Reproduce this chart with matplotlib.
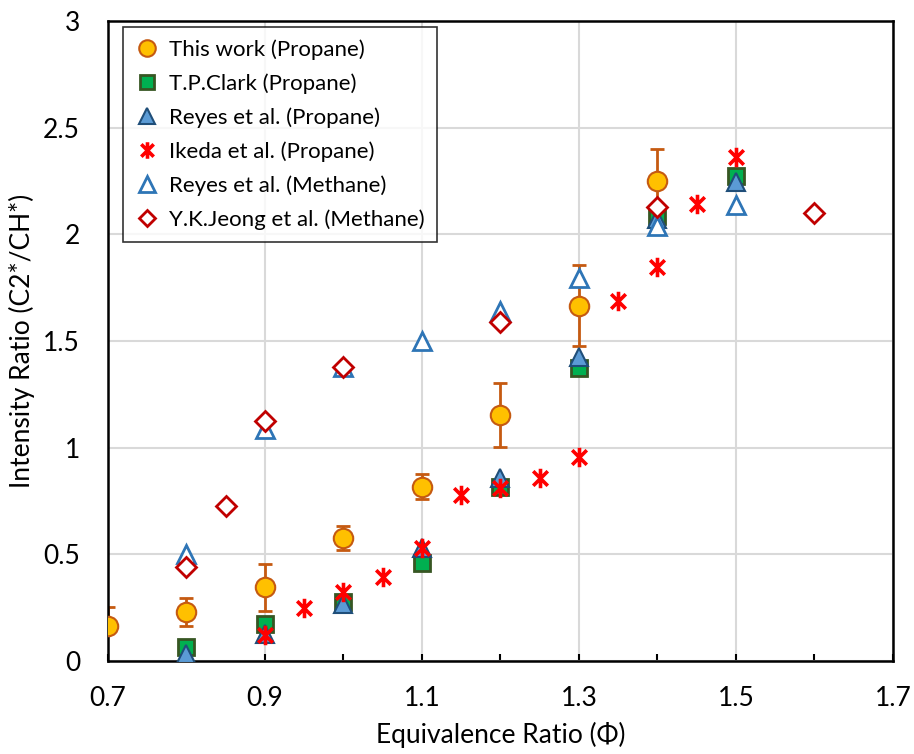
import matplotlib.pyplot as plt
import numpy as np
from matplotlib.path import Path
from matplotlib.ticker import MultipleLocator

plt.rcParams['font.family'] = ['Lato', 'DejaVu Sans']

# data
phi_this = [0.7, 0.8, 0.9, 1.0, 1.1, 1.2, 1.3, 1.4]
ir_this = [0.165, 0.23, 0.345, 0.578, 0.818, 1.155, 1.665, 2.25]
err_lo = [0.0, 0.067, 0.11, 0.057, 0.06, 0.15, 0.19, 0.15]
err_hi = [0.09, 0.067, 0.11, 0.057, 0.06, 0.15, 0.19, 0.15]

phi_clark = [0.8, 0.9, 1.0, 1.1, 1.2, 1.3, 1.4, 1.5]
ir_clark = [0.067, 0.174, 0.277, 0.46, 0.817, 1.375, 2.085, 2.274]

phi_reyes_p = [0.8, 0.9, 1.0, 1.1, 1.2, 1.3, 1.4, 1.5]
ir_reyes_p = [0.033, 0.127, 0.268, 0.53, 0.86, 1.424, 2.07, 2.244]

phi_ikeda = [0.9, 0.95, 1.0, 1.05, 1.1, 1.15, 1.2, 1.25, 1.3, 1.35, 1.4, 1.45, 1.5]
ir_ikeda = [0.122, 0.25, 0.322, 0.396, 0.529, 0.779, 0.811, 0.858, 0.955, 1.687, 1.847, 2.141, 2.363]

phi_reyes_m = [0.8, 0.9, 1.0, 1.1, 1.2, 1.3, 1.4, 1.5]
ir_reyes_m = [0.5, 1.09, 1.38, 1.5, 1.643, 1.797, 2.04, 2.136]

phi_jeong = [0.8, 0.85, 0.9, 1.0, 1.2, 1.4, 1.6]
ir_jeong = [0.443, 0.725, 1.127, 1.38, 1.59, 2.128, 2.102]

x_ticks = [0.7, 0.9, 1.1, 1.3, 1.5, 1.7]
x_labels = ['0.7', '0.9', '1.1', '1.3', '1.5', '1.7']
y_ticks = [0, 0.5, 1, 1.5, 2, 2.5, 3]
y_labels = ['0', '0.5', '1', '1.5', '2', '2.5', '3']

# Excel-style star: X plus vertical bar
star = Path([(0, -1), (0, 1), (-0.75, -0.75), (0.75, 0.75), (-0.75, 0.75), (0.75, -0.75)],
            [Path.MOVETO, Path.LINETO, Path.MOVETO, Path.LINETO, Path.MOVETO, Path.LINETO])

fig = plt.figure(figsize=(9.14, 7.54), dpi=100)
ax = fig.add_axes([0.118, 0.1233, 0.859, 0.8488])

ax.errorbar(phi_this, ir_this, yerr=[err_lo, err_hi], fmt='none', ecolor='#C55A11',
            elinewidth=2, capsize=5, capthick=2, zorder=2)
ax.plot(phi_this, ir_this, 'o', ms=14, mfc='#FFC000', mec='#C55A11', mew=1.5,
        label='This work (Propane)', zorder=3)
ax.plot(phi_clark, ir_clark, 's', ms=12, mfc='#00B050', mec='#375623', mew=2,
        label='T.P.Clark (Propane)', zorder=3)
ax.plot(phi_reyes_p, ir_reyes_p, '^', ms=13, mfc='#5B9BD5', mec='#1F4E79', mew=1.5,
        label='Reyes et al. (Propane)', zorder=3)
ax.plot(phi_ikeda, ir_ikeda, ls='none', marker=star, ms=14, mec='#FF0000', mew=2.6,
        label='Ikeda et al. (Propane)', zorder=3)
ax.plot(phi_reyes_m, ir_reyes_m, '^', ms=13, mfc='white', mec='#2E75B6', mew=2,
        label='Reyes et al. (Methane)', zorder=3)
ax.plot(phi_jeong, ir_jeong, 'D', ms=10, mfc='white', mec='#C00000', mew=2,
        label='Y.K.Jeong et al. (Methane)', zorder=3)

ax.set_xlim(0.7, 1.7)
ax.set_ylim(0, 3)
ax.set_xticks(x_ticks)
ax.set_xticklabels(x_labels)
ax.xaxis.set_minor_locator(MultipleLocator(0.1))
ax.set_yticks(y_ticks)
ax.set_yticklabels(y_labels)
ax.tick_params(axis='x', which='both', direction='in', length=5, width=1.5, labelsize=19, pad=18)
ax.tick_params(axis='y', length=0, labelsize=19, pad=20)
ax.grid(True, which='major', color='#D9D9D9', lw=1.5, zorder=0)
ax.set_axisbelow(True)
for s in ax.spines.values():
    s.set_linewidth(1.8)
    s.set_color('black')

ax.set_xlabel('Equivalence Ratio (Φ)', fontsize=19, labelpad=8)
ax.set_ylabel('Intensity Ratio (C2*/CH*)', fontsize=19, labelpad=6)

leg = ax.legend(loc='upper left', bbox_to_anchor=(0.019, 0.9906), borderaxespad=0,
                fontsize=16, frameon=True, fancybox=False, edgecolor='black',
                handletextpad=0.45, handlelength=1.1, labelspacing=0.6,
                borderpad=0.55, markerscale=0.85)
leg.get_frame().set_linewidth(1.2)

fig.savefig('out.png', dpi=100)
